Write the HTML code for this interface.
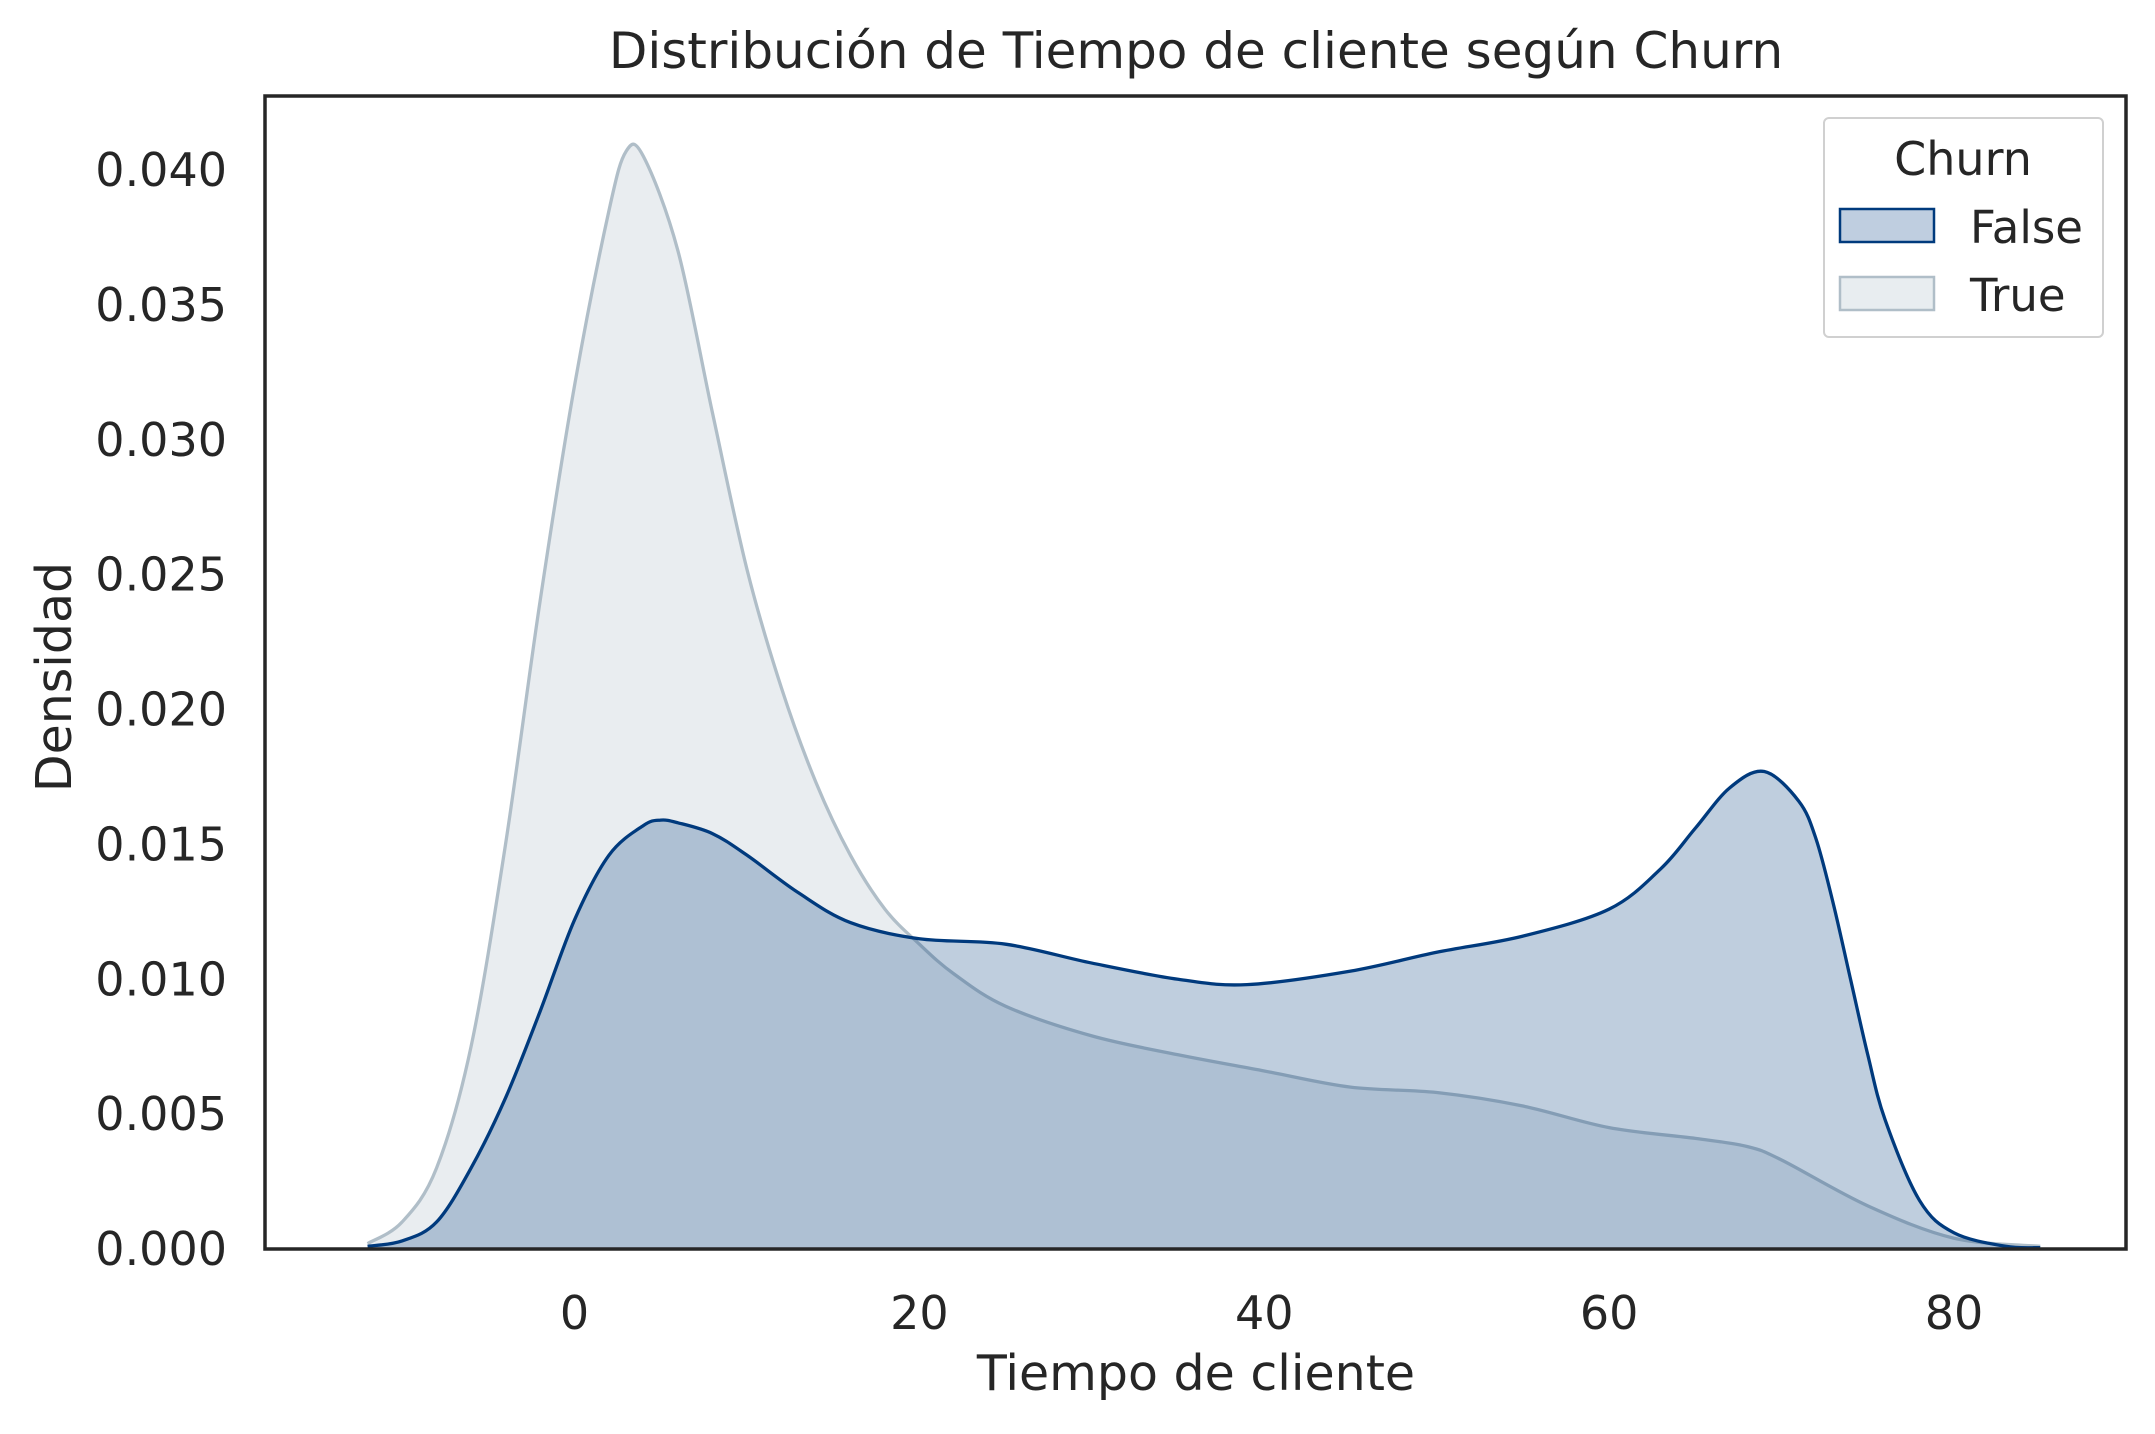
<!DOCTYPE html>
<html><head><meta charset="utf-8"><style>
body{margin:0;background:#fff}
svg text{font-family:"DejaVu Sans","Liberation Sans",sans-serif;fill:#262626}
</style></head><body>
<svg id="chart" width="2155" height="1429" viewBox="0 0 2155 1429" xmlns="http://www.w3.org/2000/svg">
<rect width="2155" height="1429" fill="#fff"/>
<text x="1196" y="68" font-size="50" text-anchor="middle">Distribución de Tiempo de cliente según Churn</text>
<g id="plot"></g>
<rect x="265" y="96" width="1861" height="1153" fill="none" stroke="#262626" stroke-width="3.5"/>
<g id="xticks"></g><g id="yticks"></g>
<text x="1196" y="1390" font-size="49" text-anchor="middle">Tiempo de cliente</text>
<text transform="translate(71,677) rotate(-90)" font-size="49" text-anchor="middle">Densidad</text>
<g>
<rect x="1824" y="118" width="279" height="219" rx="5" fill="#fff" stroke="#d0d0d0" stroke-width="2"/>
<text x="1963" y="175" font-size="46" text-anchor="middle">Churn</text>
<rect x="1840" y="209" width="94" height="33" fill="#bfcee0" stroke="#003a7d" stroke-width="2.5"/>
<text x="1970" y="243" font-size="45">False</text>
<rect x="1840" y="277" width="94" height="33" fill="#e8edf0" stroke="#b0bec8" stroke-width="2.5"/>
<text x="1970" y="311" font-size="45">True</text>
</g>
</svg>
<script>
const trueX=[-12,-10,-8,-6,-4,-2,0,2,3,4,6,8,10,12,14,16,18,20,22,25,30,35,40,45,50,55,60,65,68,70,75,80,85];
const trueY=[0.0002,0.001,0.003,0.0075,0.015,0.024,0.032,0.0385,0.0407,0.0405,0.037,0.031,0.0252,0.0208,0.0173,0.0146,0.0126,0.0113,0.0102,0.009,0.0079,0.0072,0.0066,0.006,0.0058,0.0053,0.0045,0.0041,0.0038,0.0033,0.0016,0.0004,0.0001];
const falseX=[-12,-10,-8,-6,-4,-2,0,2,4,5,6,8,10,13,16,20,25,30,35,39,45,50,55,60,63,65,67,69,71,72,73,74,75,76,78,80,83,85];
const falseY=[0.0001,0.0003,0.001,0.003,0.0056,0.0088,0.0122,0.0146,0.0157,0.0159,0.0158,0.0154,0.0146,0.0132,0.0121,0.0115,0.0113,0.0106,0.01,0.0098,0.0103,0.011,0.0116,0.0126,0.0141,0.0156,0.0171,0.0177,0.0166,0.0152,0.0128,0.01,0.0072,0.0048,0.0018,0.0006,0.0001,0.00005];
const xTicks=[0,20,40,60,80];
const yTicks=[0,0.005,0.01,0.015,0.02,0.025,0.03,0.035,0.04];
const NS="http://www.w3.org/2000/svg";
const sx=v=>574.5+v*(1954-574.5)/80;
const sy=v=>1249-v*(1249-170)/0.04;
function smoothPath(xs,ys){
  const p=xs.map((x,i)=>[sx(x),sy(ys[i])]);
  let d="M"+p[0][0]+","+p[0][1];
  for(let i=0;i<p.length-1;i++){
    const p0=p[i-1]||p[i],p1=p[i],p2=p[i+1],p3=p[i+2]||p2;
    const c1=[p1[0]+(p2[0]-p0[0])/6,p1[1]+(p2[1]-p0[1])/6];
    const c2=[p2[0]-(p3[0]-p1[0])/6,p2[1]-(p3[1]-p1[1])/6];
    d+=` C${c1[0]},${c1[1]} ${c2[0]},${c2[1]} ${p2[0]},${p2[1]}`;
  }
  return {d,x0:p[0][0],x1:p[p.length-1][0]};
}
const plot=document.getElementById('plot');
function series(xs,ys,fill,op,stroke,name){
  const s=smoothPath(xs,ys);
  const a=document.createElementNS(NS,'path');
  
  
  a.setAttribute('d',s.d+` L${s.x1},1249 L${s.x0},1249 Z`);
  a.setAttribute('fill',fill);a.setAttribute('fill-opacity',op);
  plot.appendChild(a);
  const l=document.createElementNS(NS,'path');
  
  
  l.setAttribute('d',s.d);l.setAttribute('fill','none');
  l.setAttribute('stroke',stroke);l.setAttribute('stroke-width','3.3');
  plot.appendChild(l);
}
series(trueX,trueY,'#a6b7c2',0.25,'#b0bec8','true-kde');
series(falseX,falseY,'#003a7d',0.25,'#003a7d','false-kde');
const xt=document.getElementById('xticks');
xTicks.forEach(v=>{
  const t=document.createElementNS(NS,'text');
  
  
  t.setAttribute('x',sx(v));t.setAttribute('y',1329);
  t.setAttribute('font-size','46');t.setAttribute('text-anchor','middle');
  t.textContent=v;xt.appendChild(t);
});
const yt=document.getElementById('yticks');
yTicks.forEach(v=>{
  const t=document.createElementNS(NS,'text');
  
  
  t.setAttribute('x',227);t.setAttribute('y',sy(v)+16);
  t.setAttribute('font-size','46');t.setAttribute('text-anchor','end');
  t.textContent=v.toFixed(3);yt.appendChild(t);
});
</script>
</body></html>
